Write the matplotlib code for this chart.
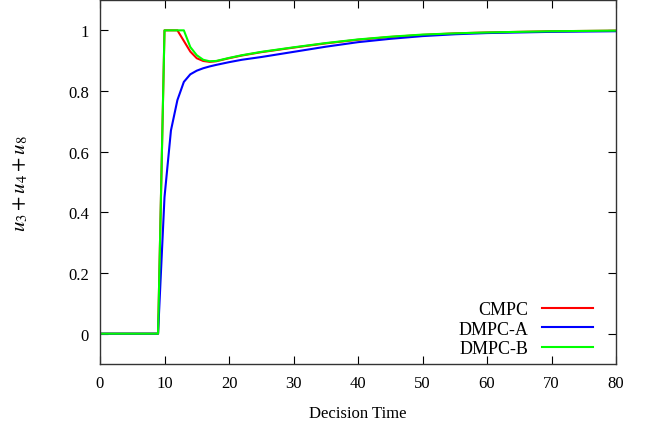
import matplotlib
matplotlib.use("Agg")
import matplotlib.pyplot as plt

plt.rcParams["font.family"] = ["Liberation Serif", "DejaVu Serif"]
plt.rcParams["mathtext.fontset"] = "stix"

# 決策時間與三條控制輸入總和
t_cmpc = [0, 9, 10, 11, 12, 13, 14, 15, 16, 17, 18, 20, 22, 25, 30, 35, 40, 45, 50, 55, 60, 70, 80]
cmpc = [0, 0, 1.0, 1.0, 1.0, 0.965, 0.93, 0.908, 0.899, 0.896, 0.898, 0.908, 0.917, 0.928, 0.943,
        0.957, 0.969, 0.978, 0.985, 0.990, 0.993, 0.997, 0.999]

t_a = [0, 9, 10, 11, 12, 13, 14, 15, 16, 17, 18, 20, 22, 25, 30, 35, 40, 45, 50, 55, 60, 65, 70, 75, 80]
dmpc_a = [0, 0, 0.45, 0.67, 0.77, 0.83, 0.855, 0.867, 0.875, 0.881, 0.886, 0.895, 0.903, 0.912, 0.929,
          0.946, 0.961, 0.972, 0.981, 0.987, 0.991, 0.993, 0.995, 0.996, 0.997]

t_b = [0, 9, 10, 11, 12, 13, 14, 15, 16, 17, 18, 20, 22, 25, 30, 35, 40, 45, 50, 55, 60, 70, 80]
dmpc_b = [0, 0, 1.0, 1.0, 1.0, 1.0, 0.945, 0.918, 0.903, 0.898, 0.899, 0.909, 0.918, 0.929, 0.944,
          0.958, 0.970, 0.979, 0.986, 0.990, 0.993, 0.997, 0.999]

x_ticks = [0, 10, 20, 30, 40, 50, 60, 70, 80]
y_ticks = [0, 0.2, 0.4, 0.6, 0.8, 1]
y_tick_labels = ["0", "0.2", "0.4", "0.6", "0.8", "1"]

fig = plt.figure(figsize=(6.48, 4.27), dpi=100)
ax = fig.add_axes([100 / 648, 62 / 427, 516 / 648, 364 / 427])

ax.plot(t_cmpc, cmpc, color="#ff0000", lw=1.5, label="CMPC")
ax.plot(t_a, dmpc_a, color="#0000ff", lw=1.5, label="DMPC-A")
ax.plot(t_b, dmpc_b, color="#00ff00", lw=1.5, label="DMPC-B")

ax.set_xlim(0, 80)
ax.set_ylim(-0.1, 1.1)
ax.set_xticks(x_ticks)
ax.set_yticks(y_ticks)
ax.set_yticklabels(y_tick_labels)
ax.tick_params(direction="in", length=6, width=0.8, top=True, right=True,
               labelsize=12, pad=8)
for s in ax.spines.values():
    s.set_color("#333333")
    s.set_linewidth(1.0)

ax.set_xlabel("Decision Time", fontsize=12, labelpad=10)
ax.set_ylabel(r"$u_3 + u_4 + u_8$", fontsize=15, labelpad=27)

ax.legend(loc="lower right", bbox_to_anchor=(493 / 516, 0.018), frameon=False,
          markerfirst=False, fontsize=13, handlelength=2.8, handletextpad=0.8,
          labelspacing=0.15, borderaxespad=0, borderpad=0)

fig.savefig("out.png", dpi=100)
